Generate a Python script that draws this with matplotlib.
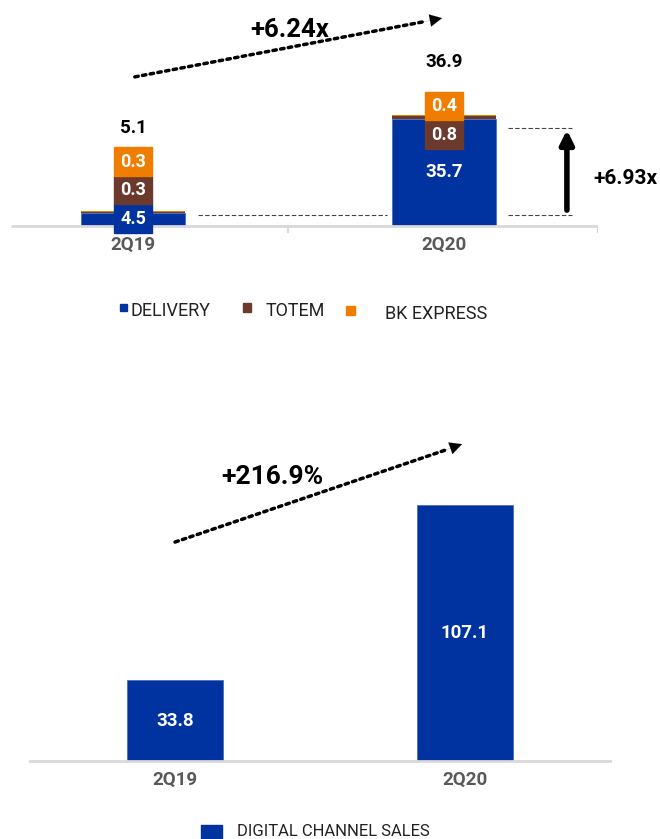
import matplotlib
matplotlib.use("Agg")
import matplotlib.pyplot as plt
from matplotlib.patches import Rectangle

plt.rcParams['font.family'] = ['Roboto', 'DejaVu Sans']

# --- data ---
quarters = ["2Q19", "2Q20"]
delivery = [4.5, 35.7]
totem = [0.3, 0.8]
bk_express = [0.3, 0.4]
totals = [5.1, 36.9]
digital_sales = [33.8, 107.1]

BLUE = "#0033A0"
BROWN = "#6B3A2C"
ORANGE = "#F07C00"
GRID = "#D9D9D9"
CAT = "#595959"

W, H = 660, 839
fig = plt.figure(figsize=(W / 100, H / 100), dpi=100)


def px_axes(x0, y0, x1, y1):
    # axes placed by pixel box (top-left origin)
    return fig.add_axes([x0 / W, 1 - y1 / H, (x1 - x0) / W, (y1 - y0) / H])


def dotted_arrow(ax, start, end, head_from):
    ax.annotate("", xy=head_from, xytext=start,
                arrowprops=dict(arrowstyle="-", lw=2.5, linestyle=(0, (1, 1.25)),
                                color="black", shrinkA=0, shrinkB=0))
    ax.annotate("", xy=end, xytext=head_from,
                arrowprops=dict(arrowstyle="-|>", lw=0.1, color="black",
                                mutation_scale=22, shrinkA=0, shrinkB=0))


# ---------------- top chart: stacked channels ----------------
ax1 = px_axes(11, 0, 598, 260)
x = [0, 1]
bw = 0.334
ax1.bar(x, delivery, bw, color=BLUE, edgecolor="#4A6CC0", linewidth=0.6)
ax1.bar(x, totem, bw, bottom=delivery, color=BROWN, linewidth=0)
base2 = [d + t for d, t in zip(delivery, totem)]
ax1.bar(x, bk_express, bw, bottom=base2, color=ORANGE, linewidth=0)
ax1.set_xlim(-0.392, 1.495)
ax1.set_ylim(-11.33, 75.33)
ax1.axis("off")

ax1.plot([-0.392, 1.495], [0, 0], color=GRID, lw=2, zorder=1, solid_capstyle="butt")
for tx in [0.5, 1.495]:
    ax1.plot([tx, tx], [0, -2.0], color=GRID, lw=1.5, zorder=1)

# label boxes beside thin segments
nb = 0.122
box_h = 9.5
# 2Q19: all three values boxed
b = -2.3
for val, col in zip([delivery[0], totem[0], bk_express[0]], [BLUE, BROWN, ORANGE]):
    ax1.add_patch(Rectangle((x[0] - nb / 2, b), nb, box_h, color=col, zorder=3))
    ax1.text(x[0], b + box_h / 2, f"{val:.1f}", color="white", fontsize=13,
             fontweight="bold", ha="center", va="center", zorder=4)
    b += box_h
# 2Q20: delivery on the bar, the small ones boxed
ax1.text(x[1], delivery[1] / 2, f"{delivery[1]:.1f}", color="white", fontsize=13.5,
         fontweight="bold", ha="center", va="center", zorder=4)
b = 25.7
for val, col in zip([totem[1], bk_express[1]], [BROWN, ORANGE]):
    ax1.add_patch(Rectangle((x[1] - nb / 2, b), nb, box_h, color=col, zorder=3))
    ax1.text(x[1], b + box_h / 2, f"{val:.1f}", color="white", fontsize=13,
             fontweight="bold", ha="center", va="center", zorder=4)
    b += box_h

for xi, tot, ty in zip(x, totals, [32.7, 54.7]):
    ax1.text(xi, ty, f"{tot:.1f}", fontsize=13.5, fontweight="bold",
             ha="center", va="center")

for xi, q in zip(x, quarters):
    ax1.text(xi, -6.3, q, fontsize=13.5, fontweight="bold", color=CAT,
             ha="center", va="center")

dotted_arrow(ax1, (0.006, 49.7), (0.994, 69.3), (0.93, 68.0))
ax1.text(0.505, 65.3, "+6.24x", fontsize=18.5, fontweight="bold",
         ha="center", va="center")

# growth marker on the right
ax1.plot([0.21, 0.816], [3.7, 3.7], color="#444444", lw=0.8, linestyle=(0, (4, 2)))
for yy in [3.7, 32.7]:
    ax1.plot([1.205, 1.41], [yy, yy], color="#444444", lw=0.8, linestyle=(0, (4, 2)))
ax1.annotate("", xy=(1.395, 32.0), xytext=(1.395, 5.3),
             arrowprops=dict(arrowstyle="-|>", lw=4, color="black",
                             mutation_scale=20, shrinkA=0, shrinkB=0))
ax1.text(1.582, 16.0, "+6.93x", fontsize=15, fontweight="bold",
         ha="center", va="center")

# legend for the top chart
leg_items = [("DELIVERY", BLUE, 123, 131, 311, 7),
             ("TOTEM", BROWN, 247, 266, 311, 9),
             ("BK EXPRESS", ORANGE, 350, 385, 314, 9)]
for lab, col, mx, tx0, ty, ms in leg_items:
    fig.text(tx0 / W, 1 - ty / H, lab, fontsize=13, color="#222222",
             ha="left", va="center")
    fig.add_artist(Rectangle(((mx - ms / 2) / W, 1 - (ty - 4 + ms / 2) / H),
                             ms / W, ms / H, color=col, transform=fig.transFigure))

# ---------------- bottom chart: digital channel sales ----------------
ax2 = px_axes(30, 430, 610, 761)
ax2.bar(x, digital_sales, 0.33, color=BLUE, edgecolor="#4A6CC0", linewidth=0.6)
ax2.set_xlim(-0.5, 1.5)
ax2.set_ylim(0, 138.5)
ax2.axis("off")
ax2.plot([-0.5, 1.5], [0, 0], color=GRID, lw=2, zorder=1, clip_on=False)

for xi, v in zip(x, digital_sales):
    ax2.text(xi, v / 2, f"{v:.1f}", color="white", fontsize=13.5, fontweight="bold",
             ha="center", va="center")
for xi, q in zip(x, quarters):
    ax2.text(xi, -8, q, fontsize=13.5, fontweight="bold", color=CAT,
             ha="center", va="center", clip_on=False)

dotted_arrow(ax2, (0.0, 91.6), (0.99, 132.6), (0.93, 130.0))
ax2.text(0.334, 118.8, "+216.9%", fontsize=19, fontweight="bold",
         ha="center", va="center")

fig.add_artist(Rectangle((201 / W, 0), 21 / W, 14 / H, color=BLUE,
                         transform=fig.transFigure))
fig.text(237 / W, 1 - 831 / H, "DIGITAL CHANNEL SALES", fontsize=12,
         color="#222222", ha="left", va="center")

fig.savefig("out.png", dpi=100)
